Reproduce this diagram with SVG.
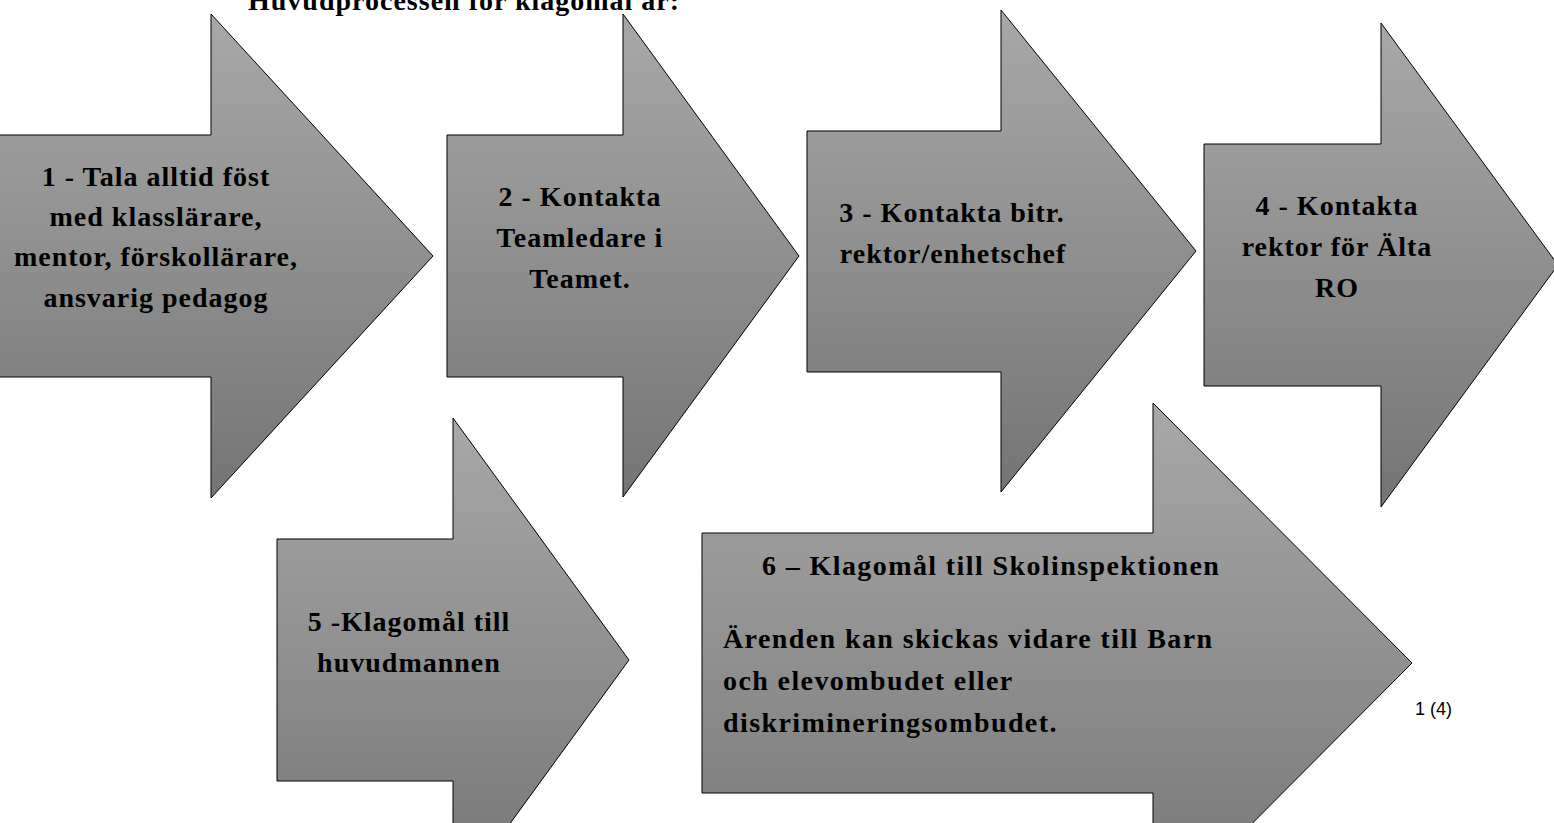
<svg xmlns="http://www.w3.org/2000/svg" width="1554" height="823" viewBox="0 0 1554 823">
  <defs>
    <linearGradient id="gray" x1="0" y1="0" x2="0" y2="1">
      <stop offset="0" stop-color="#a8a8a8"/>
      <stop offset="0.5" stop-color="#8f8f8f"/>
      <stop offset="1" stop-color="#747474"/>
    </linearGradient>
  </defs>
  <style>
    .arrow { fill: url(#gray); stroke: #000; stroke-width: 1; }
    .lbl { font-family: "Liberation Serif", "Times New Roman", serif; font-weight: bold; font-size: 28px; letter-spacing: 1px; fill: #000; }
    .wide { letter-spacing: 1.4px; }
    .c { text-anchor: middle; }
    .page { font-family: "Liberation Sans", Arial, sans-serif; font-size: 18px; fill: #000; }
  </style>
  <rect width="1554" height="823" fill="#fff"/>
  <text class="lbl" x="248" y="10" letter-spacing="0.8">Huvudprocessen för klagomål är:</text>
  <g id="connectors"/>
  <g id="step1">
    <polygon class="arrow" points="-2,135 211,135 211,14 433,256 211,498 211,377 -2,377"/>
    <text class="lbl c" x="156" y="186">1 - Tala alltid föst</text>
    <text class="lbl c" x="156" y="226">med klasslärare,</text>
    <text class="lbl c" x="156" y="266">mentor, förskollärare,</text>
    <text class="lbl c" x="156" y="307">ansvarig pedagog</text>
  </g>
  <g id="step2">
    <polygon class="arrow" points="447,135 623,135 623,14 799,256 623,497 623,377 447,377"/>
    <text class="lbl c" x="580" y="206">2 - Kontakta</text>
    <text class="lbl c" x="580" y="247">Teamledare i</text>
    <text class="lbl c" x="580" y="288">Teamet.</text>
  </g>
  <g id="step3">
    <polygon class="arrow" points="807,131 1001,131 1001,10 1196,251 1001,492 1001,372 807,372"/>
    <text class="lbl c" x="952" y="222">3 - Kontakta bitr.</text>
    <text class="lbl c" x="953" y="263">rektor/enhetschef</text>
  </g>
  <g id="step4">
    <polygon class="arrow" points="1204,144 1381,144 1381,23 1558,265 1381,507 1381,386 1204,386"/>
    <text class="lbl c" x="1337" y="215">4 - Kontakta</text>
    <text class="lbl c" x="1337" y="256">rektor för Älta</text>
    <text class="lbl c" x="1337" y="297">RO</text>
  </g>
  <g id="step5">
    <polygon class="arrow" points="277,539 453,539 453,418 629,660 453,902 453,781 277,781"/>
    <text class="lbl c" x="409" y="631">5 -Klagomål till</text>
    <text class="lbl c" x="409" y="672">huvudmannen</text>
  </g>
  <g id="step6">
    <polygon class="arrow" points="702,533 1153,533 1153,403 1412,663 1153,923 1153,793 702,793"/>
    <text class="lbl wide" x="762" y="575">6 – Klagomål till Skolinspektionen</text>
    <text class="lbl wide" x="723" y="648">Ärenden kan skickas vidare till Barn</text>
    <text class="lbl wide" x="723" y="690">och elevombudet eller</text>
    <text class="lbl wide" x="723" y="732">diskrimineringsombudet.</text>
  </g>
  <text class="page" x="1415" y="715">1 (4)</text>
</svg>
